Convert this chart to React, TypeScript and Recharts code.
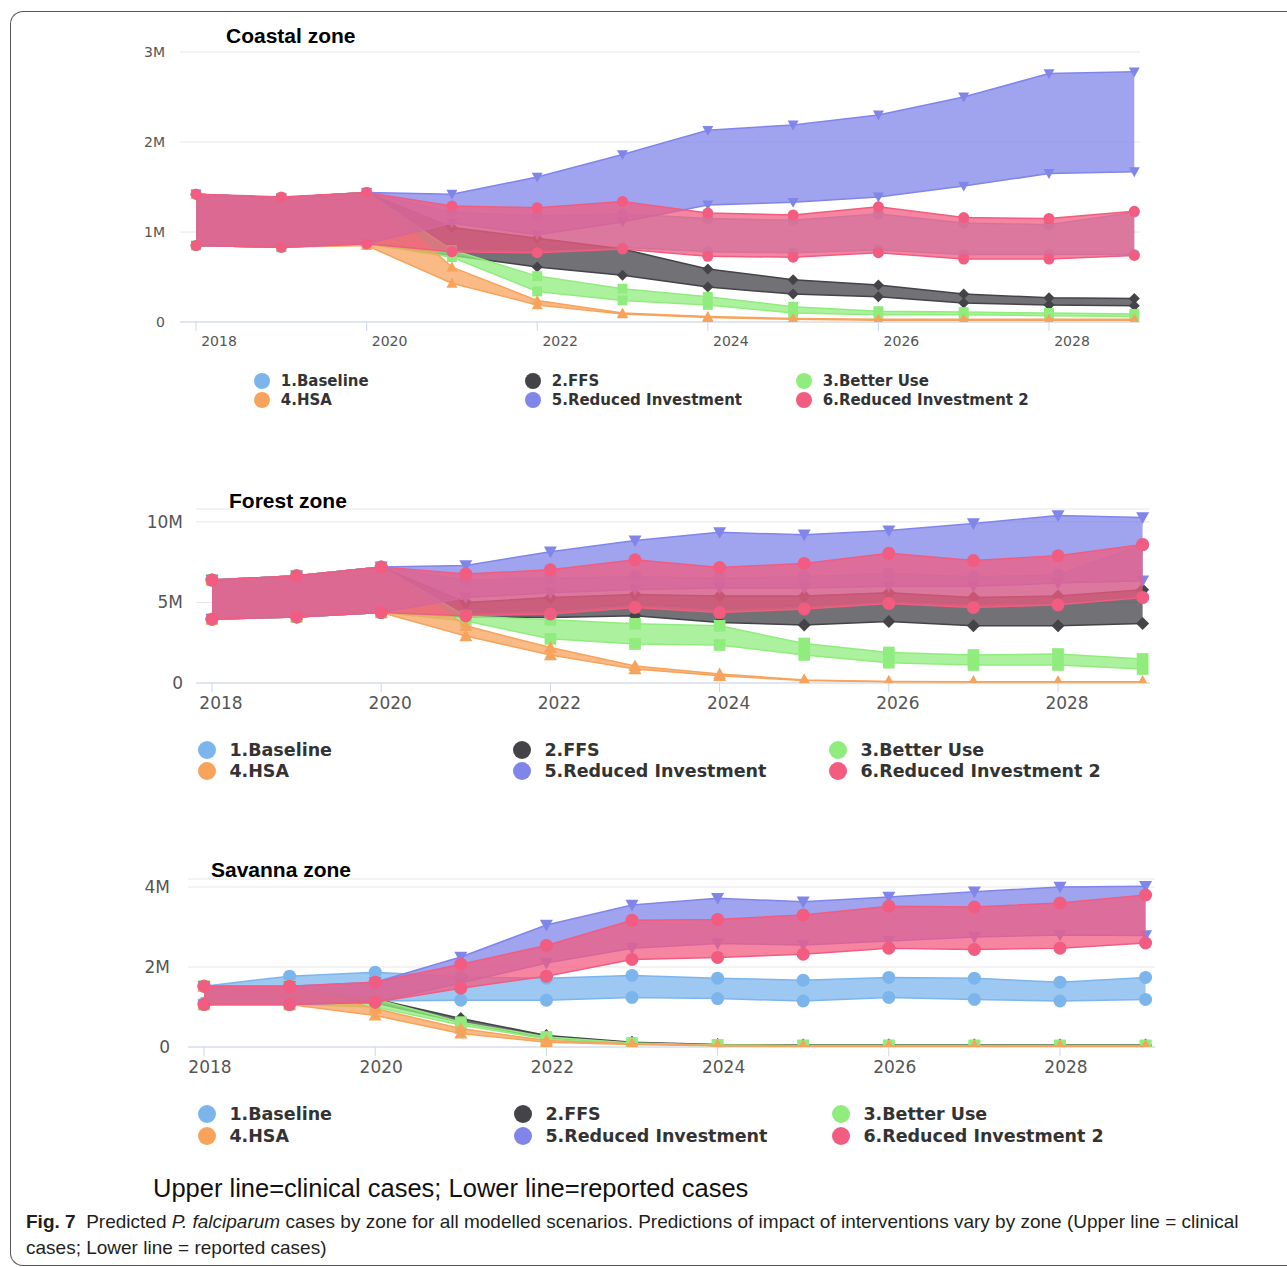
import React from "react";
import { Area, CartesianGrid, ComposedChart, XAxis, YAxis } from "recharts";

const years = [2018, 2019, 2020, 2021, 2022, 2023, 2024, 2025, 2026, 2027, 2028, 2029];
const xTicks = [2018, 2020, 2022, 2024, 2026, 2028];

const scenarios = ["1.Baseline", "2.FFS", "3.Better Use", "4.HSA", "5.Reduced Investment", "6.Reduced Investment 2"];
const colors = ["#7cb5ec", "#434348", "#90ed7d", "#f7a35c", "#8085e9", "#f15c80"];
const shapes = ["circle", "diamond", "square", "triangle", "triangle-down", "circle"];

// millions of cases; upper = clinical, lower = reported; one row per scenario
const coastalUpper = [
  [1.42, 1.38, 1.44, 1.22, 1.18, 1.2, 1.15, 1.13, 1.2, 1.1, 1.08, 1.22],
  [1.42, 1.38, 1.44, 1.05, 0.93, 0.81, 0.59, 0.47, 0.41, 0.31, 0.27, 0.26],
  [1.42, 1.38, 1.44, 0.8, 0.51, 0.37, 0.28, 0.17, 0.12, 0.11, 0.1, 0.09],
  [1.42, 1.38, 1.44, 0.61, 0.24, 0.1, 0.06, 0.04, 0.03, 0.03, 0.03, 0.03],
  [1.42, 1.38, 1.44, 1.42, 1.61, 1.86, 2.13, 2.19, 2.3, 2.5, 2.76, 2.78],
  [1.42, 1.39, 1.44, 1.29, 1.27, 1.34, 1.21, 1.19, 1.28, 1.16, 1.15, 1.23],
];
const coastalLower = [
  [0.85, 0.83, 0.87, 0.82, 0.8, 0.83, 0.78, 0.77, 0.8, 0.75, 0.75, 0.75],
  [0.85, 0.83, 0.87, 0.74, 0.61, 0.52, 0.39, 0.31, 0.28, 0.21, 0.19, 0.18],
  [0.85, 0.83, 0.87, 0.72, 0.34, 0.24, 0.19, 0.1, 0.08, 0.08, 0.07, 0.06],
  [0.85, 0.83, 0.85, 0.43, 0.19, 0.09, 0.05, 0.03, 0.02, 0.02, 0.02, 0.02],
  [0.85, 0.83, 0.87, 1.1, 0.97, 1.11, 1.3, 1.33, 1.39, 1.51, 1.65, 1.67],
  [0.85, 0.83, 0.87, 0.78, 0.77, 0.81, 0.73, 0.72, 0.77, 0.7, 0.7, 0.74],
];

const forestUpper = [
  [6.39, 6.66, 7.2, 6.4, 6.5, 6.6, 6.5, 6.6, 6.8, 6.6, 6.7, 8.59],
  [6.39, 6.66, 7.2, 5.0, 5.3, 5.5, 5.4, 5.4, 5.6, 5.3, 5.4, 5.79],
  [6.39, 6.66, 7.2, 4.15, 3.92, 3.67, 3.55, 2.45, 1.89, 1.74, 1.8, 1.49],
  [6.39, 6.66, 7.2, 3.55, 2.2, 1.06, 0.56, 0.19, 0.1, 0.08, 0.08, 0.08],
  [6.39, 6.66, 7.2, 7.3, 8.15, 8.84, 9.35, 9.2, 9.46, 9.9, 10.4, 10.27],
  [6.39, 6.66, 7.2, 6.76, 7.03, 7.65, 7.17, 7.42, 8.05, 7.6, 7.9, 8.59],
];
const forestLower = [
  [3.96, 4.1, 4.37, 4.4, 4.5, 4.9, 4.6, 4.8, 5.1, 4.9, 5.0, 5.31],
  [3.96, 4.1, 4.37, 4.1, 4.06, 4.17, 3.75, 3.6, 3.82, 3.55, 3.55, 3.69],
  [3.96, 4.1, 4.37, 3.85, 2.74, 2.42, 2.36, 1.74, 1.26, 1.12, 1.12, 0.87],
  [3.96, 4.1, 4.37, 2.92, 1.74, 0.87, 0.45, 0.15, 0.07, 0.06, 0.06, 0.06],
  [3.96, 4.1, 4.37, 5.3, 5.6, 5.8, 5.9, 5.9, 6.0, 6.0, 6.2, 6.35],
  [3.96, 4.1, 4.37, 4.17, 4.29, 4.69, 4.37, 4.6, 4.94, 4.69, 4.85, 5.31],
];

const savannaUpper = [
  [1.52, 1.77, 1.87, 1.75, 1.72, 1.79, 1.72, 1.67, 1.74, 1.72, 1.62, 1.74],
  [1.52, 1.52, 1.2, 0.71, 0.29, 0.12, 0.06, 0.05, 0.05, 0.05, 0.05, 0.05],
  [1.52, 1.52, 1.2, 0.62, 0.25, 0.1, 0.05, 0.04, 0.04, 0.04, 0.04, 0.04],
  [1.52, 1.52, 0.96, 0.46, 0.16, 0.08, 0.04, 0.03, 0.03, 0.03, 0.03, 0.03],
  [1.52, 1.52, 1.62, 2.25, 3.05, 3.55, 3.72, 3.63, 3.75, 3.88, 4.0, 4.02],
  [1.52, 1.52, 1.62, 2.07, 2.54, 3.17, 3.19, 3.3, 3.52, 3.5, 3.6, 3.8],
];
const savannaLower = [
  [1.1, 1.1, 1.15, 1.17, 1.17, 1.24, 1.21, 1.15, 1.24, 1.19, 1.15, 1.19],
  [1.06, 1.06, 1.1, 0.62, 0.22, 0.09, 0.04, 0.03, 0.03, 0.03, 0.03, 0.03],
  [1.06, 1.06, 1.0, 0.55, 0.2, 0.08, 0.04, 0.03, 0.03, 0.03, 0.03, 0.03],
  [1.06, 1.06, 0.79, 0.34, 0.12, 0.06, 0.03, 0.02, 0.02, 0.02, 0.02, 0.02],
  [1.06, 1.06, 1.12, 1.6, 2.1, 2.47, 2.59, 2.55, 2.65, 2.75, 2.8, 2.79],
  [1.06, 1.06, 1.12, 1.47, 1.77, 2.19, 2.24, 2.32, 2.47, 2.44, 2.47, 2.6],
];

function buildRows(upper: number[][], lower: number[][]) {
  return years.map((year, j) => {
    const row: any = { year };
    upper.forEach((u, i) => {
      row[`band${i}`] = [lower[i][j], u[j]];
      row[`lo${i}`] = lower[i][j];
    });
    return row;
  });
}

function markerShape(shape: string, color: string, r: number) {
  return (props: any) => {
    const { cx, cy, index } = props;
    if (cx == null || cy == null) return <g key={index} />;
    const k = `m${index}`;
    if (shape === "circle") return <circle key={k} cx={cx} cy={cy} r={r} fill={color} />;
    if (shape === "square")
      return <rect key={k} x={cx - r * 0.9} y={cy - r * 0.9} width={r * 1.8} height={r * 1.8} fill={color} />;
    let pts = "";
    if (shape === "diamond") pts = `${cx},${cy - r} ${cx + r},${cy} ${cx},${cy + r} ${cx - r},${cy}`;
    if (shape === "triangle") pts = `${cx},${cy - r} ${cx + r},${cy + r * 0.8} ${cx - r},${cy + r * 0.8}`;
    if (shape === "triangle-down") pts = `${cx - r},${cy - r * 0.8} ${cx + r},${cy - r * 0.8} ${cx},${cy + r}`;
    return <polygon key={k} points={pts} fill={color} />;
  };
}

type ZoneProps = {
  title: string;
  upper: number[][];
  lower: number[][];
  top: number;
  height: number;
  plotTop: number;
  plotBottom: number;
  plotLeft: number;
  plotRight: number;
  xDomain: [number, number];
  yDomain: [number, number];
  yTicks: number[];
  fontSize: number;
  xLabelDx: number;
  xLabelDy: number;
  yLabelGap: number;
  markerR: number;
  titleX: number;
  titleY: number;
  legendX: number[];
  legendY: number[];
  legendFont: number;
  legendR: number;
};

function Zone(p: ZoneProps) {
  const rows = buildRows(p.upper, p.lower);
  const yW = 60;
  const xH = 30;
  const layerStyle: React.CSSProperties = { position: "absolute", left: 0, top: p.top, pointerEvents: "none" };
  const layerMargin = { top: p.plotTop, bottom: p.height - p.plotBottom, left: p.plotLeft, right: 1287 - p.plotRight };
  return (
    <>
      <div
        style={{
          position: "absolute",
          left: p.titleX,
          top: p.titleY - 13,
          fontFamily: "'Liberation Sans', Arial, sans-serif",
          fontWeight: "bold",
          fontSize: 21,
          color: "#000",
          lineHeight: "26px",
          whiteSpace: "nowrap",
        }}
      >
        {p.title}
      </div>
      {/* axes and grid */}
      <div style={layerStyle}>
        <ComposedChart
          width={1287}
          height={p.height}
          data={rows}
          margin={{ top: p.plotTop, bottom: p.height - p.plotBottom - xH, left: p.plotLeft - yW, right: 1287 - p.plotRight }}
        >
          <CartesianGrid vertical={false} stroke="#e6e6e6" />
          <XAxis
            dataKey="year"
            type="number"
            domain={p.xDomain}
            ticks={xTicks}
            allowDataOverflow
            height={xH}
            stroke="#ccd6eb"
            tickSize={9}
            tickMargin={0}
            tick={(t: any) => (
              <text
                x={t.x + p.xLabelDx}
                y={t.y + p.xLabelDy}
                textAnchor="middle"
                dominantBaseline="central"
                fill="#555"
                fontSize={p.fontSize}
                fontFamily="'DejaVu Sans', sans-serif"
              >
                {t.payload.value}
              </text>
            )}
          />
          <YAxis
            type="number"
            domain={p.yDomain}
            ticks={p.yTicks}
            allowDataOverflow
            width={yW}
            axisLine={false}
            tickLine={false}
            tickSize={0}
            tickMargin={0}
            tick={(t: any) => (
              <text
                x={t.x - p.yLabelGap}
                y={t.y}
                textAnchor="end"
                dominantBaseline="central"
                fill="#555"
                fontSize={p.fontSize}
                fontFamily="'DejaVu Sans', sans-serif"
              >
                {t.payload.value === 0 ? "0" : `${t.payload.value}M`}
              </text>
            )}
          />
        </ComposedChart>
      </div>
      {/* one layer per scenario, later scenarios drawn over earlier ones */}
      {scenarios.map((name, i) => (
        <div key={`layer${i}`} style={layerStyle}>
          <ComposedChart width={1287} height={p.height} data={rows} margin={layerMargin}>
            <XAxis dataKey="year" type="number" domain={p.xDomain} allowDataOverflow hide />
            <YAxis type="number" domain={p.yDomain} allowDataOverflow hide />
            <Area
              dataKey={`band${i}`}
              name={name}
              type="linear"
              stroke={colors[i]}
              strokeWidth={1.5}
              fill={colors[i]}
              fillOpacity={0.75}
              dot={markerShape(shapes[i], colors[i], p.markerR)}
              activeDot={false}
              isAnimationActive={false}
            />
            <Area
              dataKey={`lo${i}`}
              type="linear"
              stroke="none"
              fill="none"
              dot={markerShape(shapes[i], colors[i], p.markerR)}
              activeDot={false}
              isAnimationActive={false}
            />
          </ComposedChart>
        </div>
      ))}
      {scenarios.map((name, i) => {
        const col = i % 3;
        const row = Math.floor(i / 3);
        const cx = p.legendX[col];
        const cy = p.legendY[row];
        return (
          <div
            key={name}
            style={{
              position: "absolute",
              left: cx - p.legendR,
              top: cy - p.legendFont * 0.7,
              display: "flex",
              alignItems: "center",
              height: p.legendFont * 1.4,
              whiteSpace: "nowrap",
            }}
          >
            <span style={{ display: "inline-block", width: p.legendR * 2, height: p.legendR * 2, borderRadius: "50%", background: colors[i] }} />
            <span
              style={{
                marginLeft: p.legendFont * 1.45 - p.legendR - 3,
                fontFamily: "'DejaVu Sans', sans-serif",
                fontWeight: "bold",
                fontSize: p.legendFont,
                color: "#333",
              }}
            >
              {name}
            </span>
          </div>
        );
      })}
    </>
  );
}

export default function App() {
  return (
    <div style={{ position: "absolute", left: 0, top: 0, width: 1287, height: 1267, background: "#fff", overflow: "hidden" }}>
      <div
        style={{
          position: "absolute",
          left: 10,
          top: 11,
          width: 1300,
          height: 1253,
          border: "1.5px solid #555",
          borderRight: "none",
          borderRadius: "13px 0 0 13px",
        }}
      />
      <Zone
        title="Coastal zone"
        upper={coastalUpper}
        lower={coastalLower}
        top={0}
        height={360}
        plotTop={52}
        plotBottom={322}
        plotLeft={180}
        plotRight={1140}
        xDomain={[2017.812, 2029.067]}
        yDomain={[0, 3]}
        yTicks={[0, 1, 2, 3]}
        fontSize={14}
        xLabelDx={23}
        xLabelDy={10}
        yLabelGap={15}
        markerR={5.5}
        titleX={226}
        titleY={36}
        legendX={[262, 533, 804]}
        legendY={[381, 400]}
        legendFont={15}
        legendR={8}
      />
      <Zone
        title="Forest zone"
        upper={forestUpper}
        lower={forestLower}
        top={460}
        height={260}
        plotTop={49}
        plotBottom={223}
        plotLeft={196}
        plotRight={1150}
        xDomain={[2017.811, 2029.087]}
        yDomain={[0, 10.8]}
        yTicks={[0, 5, 10]}
        fontSize={17}
        xLabelDx={9}
        xLabelDy={11}
        yLabelGap={13}
        markerR={6.5}
        titleX={229}
        titleY={501}
        legendX={[207, 522, 838]}
        legendY={[750, 771]}
        legendFont={17.5}
        legendR={9}
      />
      <Zone
        title="Savanna zone"
        upper={savannaUpper}
        lower={savannaLower}
        top={840}
        height={240}
        plotTop={39}
        plotBottom={207}
        plotLeft={188}
        plotRight={1155}
        xDomain={[2017.813, 2029.11]}
        yDomain={[0, 4.2]}
        yTicks={[0, 2, 4]}
        fontSize={17}
        xLabelDx={6}
        xLabelDy={11}
        yLabelGap={18}
        markerR={6.5}
        titleX={211}
        titleY={870}
        legendX={[207, 523, 841]}
        legendY={[1114, 1136]}
        legendFont={17.5}
        legendR={9}
      />
      <div
        style={{
          position: "absolute",
          left: 153,
          top: 1173,
          fontFamily: "'Liberation Sans', Arial, sans-serif",
          fontSize: 25.5,
          lineHeight: "30px",
          color: "#111",
          whiteSpace: "nowrap",
        }}
      >
        Upper line=clinical cases; Lower line=reported cases
      </div>
      <div
        style={{
          position: "absolute",
          left: 26,
          top: 1209,
          fontFamily: "'Liberation Sans', Arial, sans-serif",
          fontSize: 19,
          lineHeight: "26px",
          color: "#231f20",
          whiteSpace: "nowrap",
        }}
      >
        <div>
          <b>Fig. 7</b>&nbsp;&nbsp;Predicted <i>P. falciparum</i> cases by zone for all modelled scenarios. Predictions of impact of interventions vary by zone (Upper line = clinical
        </div>
        <div>cases; Lower line = reported cases)</div>
      </div>
    </div>
  );
}
